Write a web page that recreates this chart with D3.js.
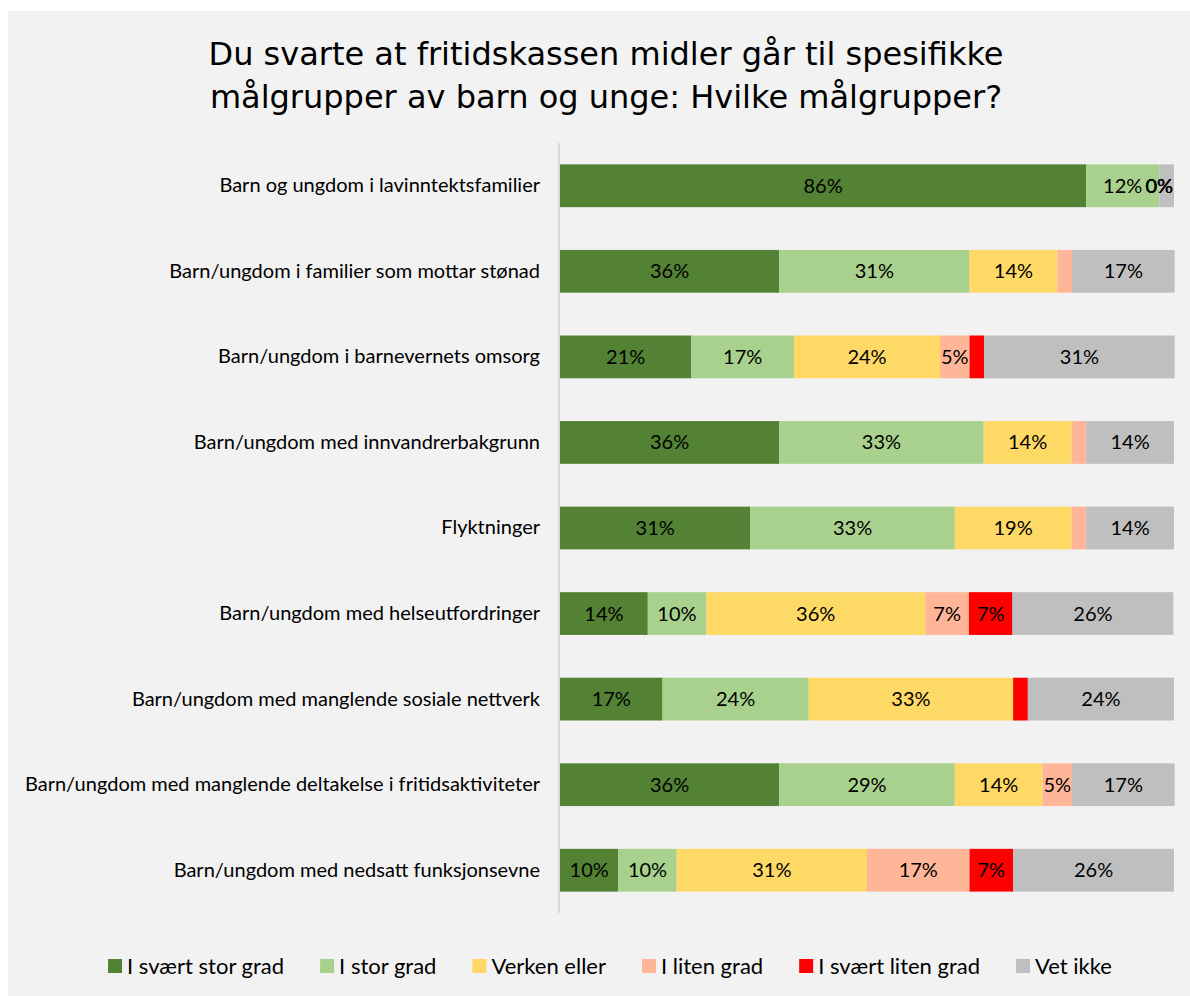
<!DOCTYPE html>
<html><head><meta charset="utf-8">
<script src="https://cdn.jsdelivr.net/npm/d3@7"></script>
<style>body{margin:0;background:#fff}</style>
</head><body>
<svg id="c" width="1190" height="996"></svg>
<script>
const titleLines = ["Du svarte at fritidskassen midler går til spesifikke", "målgrupper av barn og unge: Hvilke målgrupper?"];
const categories = [
  "Barn og ungdom i lavinntektsfamilier",
  "Barn/ungdom i familier som mottar stønad",
  "Barn/ungdom i barnevernets omsorg",
  "Barn/ungdom med innvandrerbakgrunn",
  "Flyktninger",
  "Barn/ungdom med helseutfordringer",
  "Barn/ungdom med manglende sosiale nettverk",
  "Barn/ungdom med manglende deltakelse i fritidsaktiviteter",
  "Barn/ungdom med nedsatt funksjonsevne"
];
const seriesNames = ["I svært stor grad", "I stor grad", "Verken eller", "I liten grad", "I svært liten grad", "Vet ikke"];
const seriesColors = ["#548235", "#a9d18e", "#ffd966", "#ffb598", "#ff0000", "#bfbfbf"];
const iSvaertStorGrad = [85.7, 35.7, 21.4, 35.7, 31.0, 14.3, 16.7, 35.7, 9.5];
const iStorGrad       = [11.9, 31.0, 16.7, 33.3, 33.3,  9.5, 23.8, 28.6, 9.5];
const verkenEller     = [ 0.0, 14.3, 23.8, 14.3, 19.0, 35.7, 33.3, 14.3, 31.0];
const iLitenGrad      = [ 0.0,  2.4,  4.8,  2.4,  2.4,  7.1,  0.0,  4.8, 16.7];
const iSvaertLitenGrad= [ 0.0,  0.0,  2.4,  0.0,  0.0,  7.1,  2.4,  0.0,  7.1];
const vetIkke         = [ 2.4, 16.7, 31.0, 14.3, 14.3, 26.2, 23.8, 16.7, 26.2];
const seriesValues = [iSvaertStorGrad, iStorGrad, verkenEller, iLitenGrad, iSvaertLitenGrad, vetIkke];
// rows where zero-valued segments still show a "0%" label
const zeroLabelRows = ["Barn og ungdom i lavinntektsfamilier"];

const svg = d3.select("#c");
const labelFont = "Lato, 'Open Sans', sans-serif";
svg.append("rect").attr("x", 8).attr("y", 11).attr("width", 1182).attr("height", 985).attr("fill", "#f2f2f2");

svg.append("g").selectAll("text").data(titleLines).join("text")
  .attr("x", 606).attr("y", (d, i) => 65 + i * 43)
  .attr("text-anchor", "middle")
  .attr("font-family", "'DejaVu Sans', Verdana, sans-serif")
  .attr("font-size", 32).attr("fill", "#000").text(d => d);

const x = d3.scaleLinear().domain([0, 100]).range([560, 1174]);
const y = d3.scaleBand().domain(categories).range([143, 913]).paddingInner(0.5).paddingOuter(0.25);

const rows = categories.map((c, i) => {
  const o = {cat: c};
  seriesNames.forEach((s, j) => o[s] = seriesValues[j][i]);
  return o;
});
const stacked = d3.stack().keys(seriesNames)(rows);

const g = svg.append("g");
stacked.forEach((layer, j) => {
  g.append("g").attr("fill", seriesColors[j]).selectAll("rect").data(layer).join("rect")
    .attr("x", d => x(d[0])).attr("y", d => y(d.data.cat))
    .attr("width", d => x(d[1]) - x(d[0])).attr("height", y.bandwidth());
});
stacked.forEach((layer, j) => {
  g.append("g").selectAll("text")
    .data(layer.filter(d => (d[1] - d[0]) >= 4 || ((d[1] - d[0]) === 0 && zeroLabelRows.includes(d.data.cat) && j < 5)))
    .join("text")
    .attr("x", d => (x(d[0]) + x(d[1])) / 2)
    .attr("y", d => y(d.data.cat) + y.bandwidth() / 2)
    .attr("dy", "0.35em").attr("text-anchor", "middle")
    .attr("font-family", labelFont).attr("font-size", 20).attr("fill", "#000")
    .text(d => Math.round(d[1] - d[0]) + "%");
});

// axis
const yAxis = d3.axisLeft(y).tickSize(0).tickPadding(19);
const ag = svg.append("g").attr("transform", "translate(559,0)").call(yAxis);
ag.select(".domain").attr("stroke", "#d9d9d9").attr("stroke-width", 2).attr("d", "M0,143V913");
ag.selectAll("text").attr("font-family", labelFont).attr("font-size", 20).attr("fill", "#000");

// legend
const lg = svg.append("g");
const items = lg.selectAll("g").data(seriesNames).join("g");
items.append("rect").attr("width", 14).attr("height", 14).attr("y", -7).attr("fill", (d, i) => seriesColors[i]);
items.append("text").attr("x", 19).attr("dy", "0.35em").attr("font-family", labelFont).attr("font-size", 22).attr("fill", "#000").text(d => d);
let widths = [];
items.each(function() { widths.push(d3.select(this).select("text").node().getComputedTextLength() + 19); });
const gap = 36;
const total = d3.sum(widths) + gap * (widths.length - 1);
let cx = 610 - total / 2;
items.attr("transform", (d, i) => { const t = `translate(${cx},966)`; cx += widths[i] + gap; return t; });
</script>
</body></html>
